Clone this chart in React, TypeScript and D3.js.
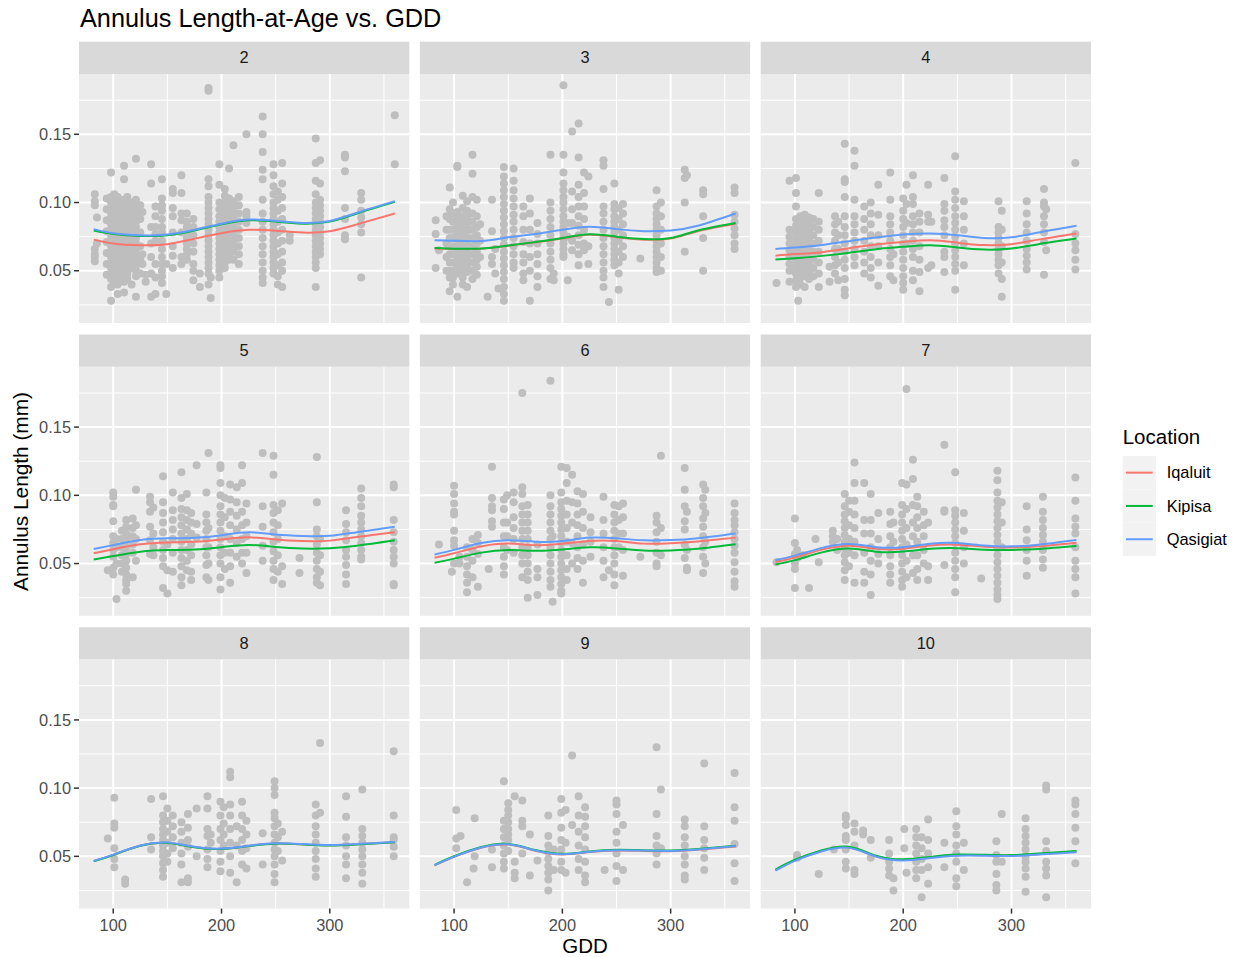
import React from 'react';
import * as d3 from 'd3';

type Col = [number, number[]];

const width = 1240;
const height = 957;
const font = 'Liberation Sans, Arial, Helvetica, sans-serif';

const ages = [2, 3, 4, 5, 6, 7, 8, 9, 10];
const locations = ['Iqaluit', 'Kipisa', 'Qasigiat'];
const locationColors = ['#F8766D', '#00BA38', '#619CFF'];
const xTicks = [100, 200, 300];
const xMinor = [150, 250, 350];
const yTicks = [0.05, 0.1, 0.15];
const yMinor = [0.025, 0.075, 0.125, 0.175];

// fitted smooth values (annulus length in 1/1000 mm) at these GDD knots
const fitGdd = [82, 100, 125, 150, 175, 200, 225, 250, 275, 300, 325, 360];
const iqaluitFit = [
  [72.8, 70, 68.7, 69.5, 73.5, 77.5, 80, 79.3, 78, 79, 84, 92],
  [66.3, 66, 66.2, 68.3, 70.8, 73.6, 76.3, 74.6, 72.8, 73.6, 79, 84.5],
  [61, 62.2, 63.6, 66.5, 69.3, 71.1, 72.4, 70.6, 68.8, 69.5, 72.8, 77.3],
  [57.5, 60.5, 64.1, 65.5, 65.9, 67.6, 69.2, 67.6, 66.5, 66.8, 69.5, 73],
  [54.3, 57.6, 62.5, 64.6, 63.5, 64.5, 66.6, 66.5, 64.6, 64.8, 66.2, 69],
  [51.3, 54.4, 60.2, 63, 60.8, 60.8, 63.3, 63.8, 62.3, 61.8, 62.6, 65.3],
  [46.5, 51.1, 57.8, 59.9, 56.8, 55.5, 57.6, 59.4, 58.8, 58.1, 58.8, 60.4],
  [43.3, 49.6, 56.3, 58.6, 54.1, 51.4, 53.1, 54.3, 54, 53.8, 54.8, 57.3],
  [39.9, 47.1, 54.1, 56.6, 50.1, 47.4, 49.2, 50.9, 50.8, 50.6, 51.6, 53.5],
];
const kipisaFit = [
  [79.5, 77, 75.5, 76, 79.5, 84, 87, 86, 84.5, 86, 92, 100.5],
  [66.7, 66.2, 66.3, 68.5, 71, 74, 76.8, 75, 73.2, 74, 79.5, 85],
  [58.2, 59.2, 60.9, 63.2, 65.8, 67.5, 68.7, 67, 65.5, 66.3, 69.5, 73.6],
  [53, 55.5, 58.7, 59.9, 60.3, 62, 63.6, 62.2, 61, 61.2, 63, 67],
  [50.6, 53.6, 58, 60, 59.3, 60.3, 61.9, 61.1, 59.5, 59.6, 60.8, 64.1],
  [49.4, 52.5, 58.2, 61, 58.7, 58.8, 60.8, 61.3, 60.2, 60, 60.7, 62.8],
  [46.4, 51, 57.7, 59.8, 56.7, 55.4, 57.5, 59.3, 58.7, 58, 58.7, 60.3],
  [43.8, 50.1, 56.8, 59.1, 54.6, 51.9, 53.6, 54.8, 54.5, 54.3, 55.3, 57.8],
  [40.3, 47.5, 54.5, 57, 50.5, 47.8, 49.6, 51.3, 51.1, 50.9, 52, 54],
];
const qasigiatFit = [
  [80.5, 77.5, 76, 76.5, 80, 84.5, 87.5, 86.5, 85, 86.5, 92.5, 101],
  [72.4, 72, 71.8, 74.5, 77, 80, 82.2, 80.5, 79, 79.5, 83, 92],
  [66, 67, 68.9, 71.7, 74.3, 76.5, 77.3, 76, 74, 74.5, 78, 83],
  [60.6, 63.5, 67.2, 68.5, 68.9, 70.8, 72.9, 71.3, 70.2, 70.3, 73, 77],
  [56.7, 60, 65, 67, 66, 66.5, 69, 68.5, 67, 67.2, 68.6, 72.1],
  [52.6, 55.8, 61.5, 64.3, 62, 62, 64.5, 65, 63.2, 62.6, 63.8, 67.2],
  [46.7, 51.3, 58, 60.1, 57, 55.7, 57.8, 59.6, 59, 58.3, 59, 60.6],
  [43.5, 49.8, 56.5, 58.8, 54.3, 51.6, 53.3, 54.5, 54.2, 54, 55, 57.5],
  [39.5, 46.7, 53.7, 56.2, 49.8, 47, 48.8, 50.5, 50.5, 50.3, 51.3, 53],
];

// observed points: [GDD, annulus lengths in 1/1000 mm]
const age2Points: Col[] = [
  [83, [106, 101, 98, 66, 62, 60, 57]], [85, [89, 70]],
  [94, [103, 95, 87, 79, 71, 63, 55, 47]],
  [98, [122, 104, 100, 96, 92, 88, 84, 80, 76, 72, 68, 64, 60, 56, 52, 48, 44, 38, 28]],
  [101, [106, 102, 98, 94, 90, 86, 82, 78, 74, 70, 66, 62, 58, 54, 50, 46, 42]],
  [104, [104, 100, 96, 92, 88, 84, 80, 76, 72, 68, 64, 60, 56, 52, 48, 44, 40, 33]],
  [107, [101, 97, 93, 89, 85, 81, 77, 73, 69, 65, 61, 57, 53, 49, 45]],
  [110, [127, 117, 102, 98, 94, 90, 86, 82, 78, 74, 70, 66, 62, 58, 54, 50, 46, 42, 34]],
  [113, [104, 100, 96, 92, 88, 84, 80, 76, 72, 68, 64, 60, 56, 52, 48, 44]],
  [117, [100, 96, 92, 88, 84, 80, 76, 72, 68, 64, 60, 56, 52, 40]],
  [121, [132, 102, 98, 94, 90, 86, 82, 78, 74, 70, 66, 62, 58, 54, 50, 46, 31]],
  [125, [98, 88, 78, 68, 58, 48]],
  [127, [93, 62, 55]], [130, [42, 47]], [135, [128, 114, 82, 48, 31, 70, 60]],
  [139, [97, 90, 82, 77, 72, 55, 45, 33]],
  [145, [117, 103, 98, 94, 88, 82, 78, 72, 66, 60, 55, 50, 46, 41]], [149, [33, 55]],
  [155, [110, 107, 96, 90, 78, 68, 61, 52]], [163, [120, 107, 92, 87, 78, 60, 55]],
  [168, [92, 86, 82, 78, 74, 70, 66, 62, 58]], [174, [88, 82, 76, 70, 64, 55, 50, 43]],
  [180, [38, 48]],
  [188, [184, 182, 117, 112, 104, 100, 96, 92, 88, 84, 80, 76, 72, 68, 64, 60, 56, 52, 48, 40]],
  [190, [30, 45]],
  [198, [128, 113, 100, 95, 90, 86, 82, 78, 74, 70, 66, 62, 58, 54, 50, 45]],
  [203, [110, 105, 100, 96, 92, 88, 84, 80, 76, 72, 68, 64, 60, 56, 52]],
  [207, [125, 103, 98, 94, 90, 86, 82, 78, 74, 70, 66, 62, 58]],
  [211, [142, 101, 96, 92, 88, 84, 80, 76, 72, 68, 64, 58]],
  [216, [104, 98, 92, 86, 80, 74, 68, 62, 55]], [223, [150, 93, 90, 85]],
  [238, [163, 150, 137, 124, 117, 102, 92, 86, 80, 74, 68, 62, 56, 50, 45, 41]],
  [248, [128, 120, 112, 106, 100, 96, 92, 88, 84, 80, 76, 72, 68, 64, 60, 56, 52, 48]],
  [252, [108, 102, 94, 86, 78, 70, 62, 54, 46, 40]],
  [256, [129, 114, 104, 96, 88, 80, 72, 64, 56, 50, 38]], [263, [72, 76]],
  [287, [147, 129, 116, 106, 100, 96, 92, 88, 84, 80, 76, 72, 68, 64, 60, 56, 52, 38]],
  [291, [131, 114, 102, 98, 94, 90, 86, 82, 78, 74, 70, 66, 62]],
  [314, [135, 133, 123, 96, 88, 76, 73]], [329, [107, 102, 94, 89, 84, 78, 45]],
  [360, [164, 128]],
];
const age3Points: Col[] = [
  [83, [87, 77, 52]], [86, [65]], [93, [90, 80, 70, 60, 50]],
  [96, [111, 95, 88, 80, 74, 68, 62, 56, 50, 45, 35]],
  [99, [100, 92, 86, 80, 74, 68, 62, 56, 50, 45, 40]],
  [103, [127, 126, 93, 88, 83, 78, 73, 68, 63, 58, 53, 48, 31]],
  [108, [105, 96, 90, 85, 80, 75, 70, 65, 60, 55, 50, 45, 40]],
  [112, [101, 94, 89, 84, 79, 74, 69, 64, 59, 54, 49, 38]],
  [117, [135, 121, 104, 92, 86, 80, 74, 68, 62, 56, 50, 44]],
  [121, [102, 90, 82, 76, 70, 64, 58, 53, 47]], [124, [84, 72, 60]],
  [131, [31]], [135, [102, 79, 60, 55]],
  [138, [66, 48]], [141, [37]],
  [146, [126, 119, 114, 109, 104, 99, 94, 89, 84, 79, 74, 69, 64, 59, 54, 49, 44, 38, 33, 28]],
  [155, [125, 116, 109, 103, 97, 91, 86, 80, 74, 68, 62, 56, 52]],
  [164, [97, 90, 80, 71, 62, 56, 48, 43]], [170, [103, 92, 80, 70, 60, 50, 28]],
  [177, [85, 77, 70, 62, 55, 46, 38]], [189, [135, 100, 94, 88, 82, 76, 70, 64, 58, 52, 44]],
  [192, [43, 48]],
  [201, [186, 135, 122, 114, 109, 104, 100, 95, 90, 86, 82, 78, 74, 70, 66, 62, 60]],
  [205, [43, 75, 85]], [209, [152, 108, 95, 85, 72, 65]],
  [215, [158, 133, 113, 104, 97, 90, 83, 76, 69, 62, 54]],
  [220, [122, 107, 97, 88, 80, 70, 65]], [224, [119, 68, 55]],
  [238, [131, 127, 110, 97, 92, 86, 80, 74, 68, 62, 56, 50, 45, 38]], [243, [27]],
  [248, [114, 99, 95, 90, 86, 82, 78, 74, 70, 66, 62, 58, 54]],
  [252, [96, 88, 80, 72, 64, 56, 48, 36]], [256, [99, 92, 84, 76, 68, 60]], [272, [59]],
  [287, [109, 97, 92, 88, 84, 80, 76, 72, 68, 64, 60, 56, 52, 49]],
  [291, [100, 90, 80, 70, 60, 50]], [313, [124, 118, 100, 64]], [315, [120]],
  [330, [109, 106, 90, 74, 50]], [359, [111, 107, 91, 86, 81, 76, 70, 66]],
];
const age4Points: Col[] = [
  [83, [41]], [95, [116, 80, 75, 70, 65, 60, 55, 50, 42]],
  [101, [118, 107, 97, 88, 83, 78, 73, 68, 63, 58, 53, 48, 43, 38]], [103, [28]],
  [105, [90, 85, 80, 75, 70, 65, 60, 55, 50, 45, 40]],
  [109, [91, 86, 81, 76, 71, 66, 61, 56, 51, 46, 38]],
  [113, [89, 84, 79, 74, 69, 64, 59, 54, 49, 44]], [117, [88, 82, 76, 70, 64, 58, 52, 46]],
  [122, [107, 86, 80, 72, 64, 56, 48, 38]], [132, [53, 42]],
  [137, [90, 84, 78, 72, 66, 60, 54, 48]], [140, [86, 76, 66, 56, 43]],
  [146, [143, 117, 115, 104, 90, 82, 76, 70, 64, 58, 52, 44, 36, 32]],
  [155, [138, 127, 102, 90, 84, 78, 72, 66, 60, 54]], [164, [97, 88, 80, 72, 64, 56, 48]],
  [170, [100, 92, 84, 76, 68, 60, 52, 45]], [177, [113, 91, 76, 68, 56, 39]],
  [188, [122, 102, 90, 84, 78, 72, 66, 60, 54, 46]], [191, [43, 62]],
  [200, [103, 94, 88, 82, 76, 70, 64, 58, 52, 46, 41, 36]], [203, [113, 99, 85, 70]],
  [209, [120, 104, 99, 90, 84, 78, 72, 66, 60, 50, 43]], [215, [92, 86, 78, 68, 58, 49, 35]],
  [223, [113, 91, 86, 52]], [226, [86, 54]], [238, [118, 99, 94, 87, 82, 76, 64, 60, 49]],
  [248, [134, 108, 102, 96, 90, 85, 80, 75, 70, 65, 60, 55, 50, 36]],
  [256, [101, 90, 80, 70, 54]], [288, [101, 82, 78, 74, 70, 66, 62, 58, 54, 48]],
  [291, [94, 80, 68, 56, 44, 31]], [314, [101, 92, 84, 78, 72, 66, 61, 56, 51]],
  [330, [110, 100, 97, 90, 84, 78, 71, 47]], [332, [95, 65]], [359, [129, 77, 70, 65, 58, 51]],
];
const age5Points: Col[] = [
  [95, [45]], [100, [102, 99, 93, 92, 81, 70, 65, 60, 55, 47, 42]], [103, [24, 62, 68, 50]],
  [108, [74, 68, 62, 56, 50, 44]], [112, [82, 77, 72, 67, 62, 57, 52, 47, 42, 38, 35, 30]],
  [118, [83, 76, 70, 64, 58, 40]], [121, [104, 78, 68, 52]], [134, [99, 95, 88, 77, 67, 57]],
  [137, [91, 72, 62, 56]], [146, [114, 95, 87, 80, 73, 66, 60, 54, 48, 32]], [150, [28, 45, 64]],
  [155, [102, 89, 82, 75, 68, 58, 44]], [163, [117, 98, 90, 84, 78, 72, 66, 60, 54, 48, 40, 34]],
  [168, [101, 89, 82, 75, 68, 60, 52, 45]], [172, [87, 80, 72, 64, 56, 44, 38]],
  [177, [122, 79, 69]], [186, [102, 86, 80, 74, 68, 62, 56, 49, 40]], [188, [131, 76, 62, 50, 38]],
  [199, [122, 120, 109, 100, 92, 86, 80, 74, 68, 62, 56, 50, 40, 31]], [203, [98, 84, 70, 58, 46]],
  [208, [108, 97, 88, 78, 68, 58, 48, 36]], [214, [106, 95, 85, 75, 65, 55]],
  [219, [122, 109, 88, 78, 68, 58, 50]], [223, [94, 80, 70, 58, 43]], [238, [131, 92, 77, 63, 52]],
  [248, [129, 115, 93, 87, 80, 73, 66, 59, 52, 46, 38]], [252, [89, 78, 68, 56, 44]],
  [256, [94, 48, 35]], [272, [54, 43]], [288, [128, 95, 75, 70, 64, 58, 52, 46, 40, 36]],
  [291, [68, 56, 44, 34]], [315, [89, 79, 73, 67, 60, 55, 49, 42, 35]],
  [329, [105, 98, 92, 85, 80, 75, 70, 65, 60, 55, 53]],
  [359, [108, 106, 82, 73, 66, 60, 55, 50, 35, 34]],
];
const age6Points: Col[] = [
  [86, [64]], [100, [107, 101, 94, 88, 86, 74, 67, 63, 50]], [98, [44]], [105, [50, 55]],
  [112, [62, 55, 48, 42, 36, 29]], [117, [68, 60, 52, 40]], [122, [71, 65, 57, 33]], [132, [46]],
  [135, [121, 98, 92, 89, 81, 77]], [146, [97, 90, 80, 70, 62, 55, 48, 42]], [149, [100, 80, 70, 60]],
  [155, [102, 95, 84, 76, 68, 58]], [163, [175, 106, 101, 92, 86, 80, 74, 68, 62, 56, 50, 40]],
  [168, [93, 86, 80, 74, 68, 62, 56, 50, 44, 38, 25]], [177, [64, 46, 40, 27]],
  [189, [184, 100, 92, 86, 80, 74, 68, 62, 56, 50, 44, 38, 33]], [191, [22, 70]],
  [199, [121, 102, 95, 90, 85, 80, 75, 70, 65, 60, 55, 50, 45, 40, 35, 30, 28]],
  [204, [120, 109, 96, 86, 76, 66, 56, 46, 38]], [209, [115, 95, 80, 65, 50]],
  [214, [103, 94, 86, 78, 70, 62, 54, 46]], [219, [101, 88, 76, 64, 52, 36]],
  [226, [84, 73, 66, 55]], [238, [99, 82, 72, 62, 52, 40]], [243, [45]],
  [248, [93, 86, 80, 74, 68, 62, 56, 50, 42, 34]], [252, [92, 82, 72, 62]],
  [256, [94, 84, 72, 60, 41]], [272, [55]], [287, [85, 80, 73, 66, 58, 50, 48]],
  [291, [129, 76, 56]], [313, [120, 104, 92, 81, 75, 64, 54]], [315, [88, 60, 47, 45]],
  [330, [108, 98, 92, 83, 77, 70, 62, 55, 43]], [332, [104, 87, 66, 50]],
  [359, [94, 87, 82, 78, 73, 68, 63, 58, 51, 44, 37, 33]],
];
const age7Points: Col[] = [
  [83, [51]], [100, [83, 65, 57, 50, 46, 32]], [102, [60, 54]], [107, [56]], [113, [32]],
  [119, [68]], [122, [51]], [135, [74, 70, 66]], [139, [68, 60]],
  [146, [101, 92, 86, 81, 76, 71, 66, 61, 56, 51, 45, 38]], [150, [96, 88, 78, 68, 58, 48]],
  [155, [124, 109, 96, 86, 76, 66, 56, 36]], [164, [109, 82, 72, 58, 44, 36]],
  [170, [101, 82, 72, 62, 52, 42, 27]], [177, [87, 68, 57, 50]],
  [188, [88, 79, 70, 62, 56, 48, 42, 36]], [191, [80, 66]],
  [199, [109, 93, 86, 80, 74, 68, 62, 56, 50, 44, 38, 33]], [203, [178, 108, 90, 76, 64, 52, 40]],
  [209, [126, 112, 93, 80, 70, 56, 43]], [213, [99, 92, 84, 76, 66, 56, 46, 38]],
  [219, [88, 78, 70, 60, 50]], [223, [80, 48, 38]], [238, [137, 89, 88, 49]],
  [248, [117, 89, 85, 80, 75, 70, 65, 58, 52, 46, 40, 29]], [256, [87, 74, 62, 50]], [272, [39]],
  [287, [118, 111, 102, 96, 91, 86, 81, 76, 71, 66, 61, 56, 51, 46, 41, 36, 31, 27, 24]],
  [291, [95, 80, 62]], [314, [92, 75, 67, 60, 52, 41]], [329, [99, 88, 82, 76, 71, 66, 60, 53, 47]],
  [359, [113, 96, 83, 77, 72, 62, 52, 46, 40, 28]],
];
const age8Points: Col[] = [
  [95, [63]], [101, [93, 74, 71, 56, 48, 42]], [111, [33, 30]], [135, [92, 64, 55]],
  [146, [94, 80, 75, 70, 66, 62, 58, 54, 50, 45, 40, 35]], [150, [85, 76, 68, 60, 52, 46]],
  [155, [80, 72, 64, 56]], [163, [75, 68, 60, 52, 44, 31]], [169, [81, 71, 62, 57, 34, 31]],
  [177, [85, 50]], [187, [94, 85, 70, 65, 55, 48, 42]], [190, [66, 60]],
  [199, [90, 80, 70, 62, 54, 46, 39]], [202, [86, 74, 66, 58]],
  [208, [112, 108, 88, 80, 70, 60, 50, 38]], [214, [72, 58, 31]], [219, [90, 80, 70, 62, 54, 44]],
  [223, [76, 66, 56, 41]], [238, [67, 44]],
  [249, [105, 100, 95, 82, 78, 72, 66, 60, 55, 50, 44, 37, 31]], [252, [74, 64, 54]],
  [256, [68, 47]], [287, [88, 80, 72, 66, 60, 54, 48, 41, 35]], [291, [133, 82]],
  [315, [94, 79, 64, 58, 50, 44, 34]], [330, [99, 70, 65, 60, 55, 50, 44, 38, 30]],
  [359, [127, 80, 64, 62, 57, 50]],
];
const age9Points: Col[] = [
  [102, [84, 63, 56]], [106, [65]], [112, [31]], [118, [41]], [119, [78, 50]], [135, [55, 42]],
  [146, [105, 76, 70, 64, 58, 52, 46, 41]], [150, [89, 84, 80, 75, 70, 66, 62, 54]],
  [156, [94, 46, 38, 34]], [163, [91, 76, 72, 52]], [170, [66, 36]], [177, [47]],
  [187, [80, 65, 58, 53, 48, 43, 38, 33, 25]], [192, [40, 55]], [199, [92, 82, 71, 62, 55, 46, 40]],
  [203, [84, 60, 38]], [209, [124, 73]], [215, [94, 80, 68, 58, 48, 40]],
  [221, [86, 79, 72, 64, 55, 46, 36, 31]], [239, [40]], [250, [91, 88, 81, 68, 60, 52, 43, 32]],
  [256, [73, 40]], [287, [130, 81, 65, 58, 52, 44]], [291, [99, 56]],
  [313, [77, 72, 64, 58, 50, 44, 36, 33]], [331, [118, 72, 62, 56, 49, 40]],
  [359, [111, 86, 76, 59, 45, 32]],
];
const age10Points: Col[] = [
  [102, [51, 49]], [122, [37]], [136, [55]], [147, [80, 78, 73, 65, 62, 55, 46, 41]],
  [155, [74, 68, 58, 40, 37]], [163, [69, 66]], [170, [62, 49]], [187, [62, 52, 46, 41, 36]],
  [191, [34, 25]], [201, [70, 56]], [203, [38]], [212, [70, 64, 58, 52, 46, 40, 34]],
  [217, [64, 56, 48, 40, 20]], [223, [77, 62, 52, 42, 30]], [238, [60, 42]],
  [249, [83, 72, 66, 58, 52, 46, 34, 28]], [256, [60, 40]], [286, [61, 51, 46, 37, 29, 25]],
  [291, [81, 46]], [313, [78, 70, 65, 60, 55, 50, 46, 41, 35, 24]],
  [332, [102, 99, 61, 54, 46, 41, 36, 20]], [359, [91, 88, 81, 71, 61, 45]],
];
const pointsByAge = [age2Points, age3Points, age4Points, age5Points, age6Points, age7Points, age8Points, age9Points, age10Points];
const fitsByLocation = [iqaluitFit, kipisaFit, qasigiatFit];

// layout
const panelLeft0 = 79;
const panelW = 330.3;
const colStep = 340.85;
const stripTop0 = 41.7;
const stripH = 32.3;
const panelH = 249;
const rowStep = 292.8;

const xScale = d3.scaleLinear().domain([68.4, 373.4]).range([0, panelW]);
const yScale = d3.scaleLinear().domain([0.0117, 0.1942]).range([panelH, 0]);

const fitLine = d3
  .line<number>()
  .x((_, i) => xScale(fitGdd[i]))
  .y(v => yScale(v / 1000))
  .curve(d3.curveNatural);

const Panel = ({ index }: { index: number }) => {
  const col = index % 3;
  const row = Math.floor(index / 3);
  const left = panelLeft0 + col * colStep;
  const top = stripTop0 + row * rowStep;
  const points = pointsByAge[index].flatMap(([g, vs]) => vs.map(v => [g, v / 1000]));
  return (
    <g transform={`translate(${left},${top})`}>
      <rect width={panelW} height={stripH} fill="#D9D9D9" />
      <text x={panelW / 2} y={stripH / 2 + 5.6} textAnchor="middle" fontSize={16.4} fill="#1A1A1A">
        {ages[index]}
      </text>
      <g transform={`translate(0,${stripH})`}>
        <rect width={panelW} height={panelH} fill="#EBEBEB" />
        {yMinor.map(t => (
          <line key={'ym' + t} x1={0} x2={panelW} y1={yScale(t)} y2={yScale(t)} stroke="#fff" strokeWidth={1} />
        ))}
        {xMinor.map(t => (
          <line key={'xm' + t} x1={xScale(t)} x2={xScale(t)} y1={0} y2={panelH} stroke="#fff" strokeWidth={1} />
        ))}
        {yTicks.map(t => (
          <line key={'y' + t} x1={0} x2={panelW} y1={yScale(t)} y2={yScale(t)} stroke="#fff" strokeWidth={2} />
        ))}
        {xTicks.map(t => (
          <line key={'x' + t} x1={xScale(t)} x2={xScale(t)} y1={0} y2={panelH} stroke="#fff" strokeWidth={2} />
        ))}
        {points.map(([g, v], i) => (
          <circle key={i} cx={xScale(g)} cy={yScale(v)} r={4} fill="#BEBEBE" />
        ))}
        {fitsByLocation.map((fits, li) => (
          <path key={li} d={fitLine(fits[index]) || ''} fill="none" stroke={locationColors[li]} strokeWidth={2} />
        ))}
        {col === 0 &&
          yTicks.map(t => (
            <g key={'yt' + t} transform={`translate(0,${yScale(t)})`}>
              <line x1={-5} x2={0} stroke="#333333" strokeWidth={1.5} />
              <text x={-8} dy="0.35em" textAnchor="end" fontSize={16.4} fill="#4D4D4D">
                {t.toFixed(2)}
              </text>
            </g>
          ))}
        {row === 2 &&
          xTicks.map(t => (
            <g key={'xt' + t} transform={`translate(${xScale(t)},${panelH})`}>
              <line y1={0} y2={5} stroke="#333333" strokeWidth={1.5} />
              <text y={22} textAnchor="middle" fontSize={16.4} fill="#4D4D4D">
                {t}
              </text>
            </g>
          ))}
      </g>
    </g>
  );
};

const App = () => (
  <svg
    width={width}
    height={height}
    style={{ position: 'absolute', left: 0, top: 0, background: '#fff' }}
    fontFamily={font}
  >
    <rect width={width} height={height} fill="#fff" />
    <text x={80} y={26.7} fontSize={25.3} fill="#000">
      Annulus Length-at-Age vs. GDD
    </text>
    {ages.map((_, i) => (
      <Panel key={i} index={i} />
    ))}
    <text x={585} y={953} textAnchor="middle" fontSize={20.5} fill="#000">
      GDD
    </text>
    <text transform="translate(28,491.5) rotate(-90)" textAnchor="middle" fontSize={20.8} fill="#000">
      Annulus Length (mm)
    </text>
    <g transform="translate(1122.7,456)">
      <text x={0} y={-12} fontSize={20.5} fill="#000">
        Location
      </text>
      {locations.map((loc, i) => (
        <g key={loc} transform={`translate(0,${i * 33.3})`}>
          <rect width={33.3} height={33.3} fill="#F2F2F2" />
          <line x1={3.3} x2={30} y1={16.65} y2={16.65} stroke={locationColors[i]} strokeWidth={2} />
          <text x={44} y={16.65} dy="0.35em" fontSize={16.4} fill="#000">
            {loc}
          </text>
        </g>
      ))}
    </g>
  </svg>
);

export default App;
